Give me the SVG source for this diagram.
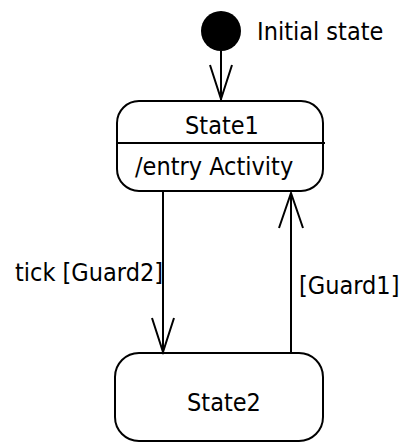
<svg xmlns="http://www.w3.org/2000/svg" width="399" height="443" viewBox="0 0 399 443">
<style>
text{font-family:"DejaVu Sans Condensed","DejaVu Sans","Liberation Sans",sans-serif;font-stretch:condensed;font-size:25px;fill:#000}
.box{fill:#fff;stroke:#000;stroke-width:2}
.edge{fill:none;stroke:#000;stroke-width:2}
</style>
<rect width="399" height="443" fill="#fff"/>
<g id="initial">
<circle cx="221" cy="31" r="20" fill="#000"/>
<text x="257" y="40">Initial state</text>
</g>
<g id="state1">
<rect class="box" x="117" y="101" width="206" height="90" rx="22" ry="22"/>
<line class="edge" x1="117" y1="143" x2="325" y2="143"/>
<text x="222" y="134" text-anchor="middle">State1</text>
<text x="135" y="175">/entry Activity</text>
</g>
<g id="state2">
<rect class="box" x="115" y="353" width="208" height="88" rx="24" ry="24"/>
<text x="224" y="411" text-anchor="middle">State2</text>
</g>
<g id="connectors">
<line class="edge" x1="221" y1="51" x2="221" y2="100"/>
<polyline class="edge" points="210,65 221,99 232,65"/>
<line class="edge" x1="163" y1="192" x2="163" y2="352"/>
<polyline class="edge" points="152,318 163,352 174,318"/>
<text x="15" y="281">tick [Guard2]</text>
<line class="edge" x1="291" y1="352" x2="291" y2="193"/>
<polyline class="edge" points="279,228 291,193 303,228"/>
<text x="299" y="294">[Guard1]</text>
</g>
</svg>
